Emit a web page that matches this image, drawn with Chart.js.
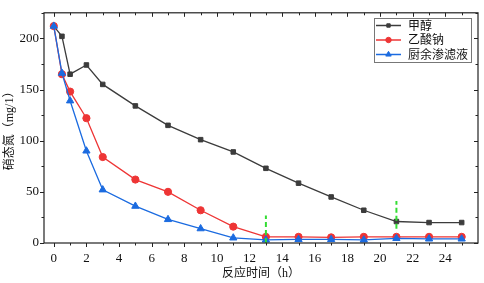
<!DOCTYPE html>
<html>
<head>
<meta charset="utf-8">
<script src="https://cdn.jsdelivr.net/npm/chart.js@4.4.0/dist/chart.umd.min.js"></script>
<style>
  html, body { margin: 0; padding: 0; background: #fff; }
</style>
</head>
<body>
<canvas id="chart" width="484" height="283"></canvas>
<script>
// reaction time (h)
const hours = [0, 0.5, 1, 2, 3, 5, 7, 9, 11, 13, 15, 17, 19, 21, 23, 25];
// nitrate nitrogen (mg/l) for each carbon source
const methanol = [212, 202, 165, 174, 155, 134, 115, 101, 89, 73, 58.5, 45, 32, 21, 20, 20];
const sodiumAcetate = [212, 165, 148, 122, 84, 62, 50, 32, 16, 6, 6, 5.5, 6, 6, 6, 6];
const leachate = [212, 166, 139, 90, 52, 36, 23, 14, 5, 3, 3.5, 3.5, 3, 4.5, 4, 4];
const seriesNames = ['甲醇', '乙酸钠', '厨余渗滤液'];

// green dashed markers
const markTimes = [13, 21];
const markLow = [0, 14];
const markHigh = [27, 41];

const xTicks = [0, 2, 4, 6, 8, 10, 12, 14, 16, 18, 20, 22, 24];
const yTicks = [0, 50, 100, 150, 200];

const FONT = "'Liberation Serif', 'Noto Sans CJK SC', serif";
const COLORS = ['#3c3c3c', '#ee3535', '#1b6be0'];
const SHAPES = ['rect', 'circle', 'triangle'];
const SIZES = [3.2, 3.6, 4.2];

const toPts = ys => hours.map((h, i) => ({ x: h, y: ys[i] }));

const markSets = markTimes.map((t, i) => ({
  data: [{ x: t, y: markLow[i] }, { x: t, y: markHigh[i] }],
  borderColor: '#33dd33',
  borderWidth: 2,
  borderDash: [5, 3],
  pointRadius: 0,
  isMark: true
}));

const series = [methanol, sodiumAcetate, leachate].map((ys, i) => ({
  label: seriesNames[i],
  data: toPts(ys),
  borderColor: COLORS[i],
  backgroundColor: COLORS[i],
  borderWidth: 1.3,
  pointStyle: SHAPES[i],
  pointRadius: SIZES[i],
  pointBorderWidth: 1,
  tension: 0
}));

// draws frame, minor/major ticks on all four sides, and the legend box
const framePlugin = {
  id: 'frame',
  afterDraw(chart) {
    const ctx = chart.ctx;
    const a = chart.chartArea;
    const xs = chart.scales.x, ys = chart.scales.y;
    ctx.save();
    ctx.strokeStyle = '#222';
    ctx.lineWidth = 1.2;
    ctx.strokeRect(a.left, a.top, a.right - a.left, a.bottom - a.top);

    ctx.lineWidth = 1;
    ctx.beginPath();
    for (let v = 0; v <= 25; v++) {
      const px = Math.round(xs.getPixelForValue(v)) + 0.5;
      const len = v % 2 === 0 ? 4 : 2.5;
      ctx.moveTo(px, a.bottom); ctx.lineTo(px, a.bottom + len);
      ctx.moveTo(px, a.top); ctx.lineTo(px, a.top + len);
    }
    for (let v = 0; v <= 225; v += 25) {
      const py = Math.round(ys.getPixelForValue(v)) + 0.5;
      const len = v % 50 === 0 ? 4 : 2.5;
      ctx.moveTo(a.left, py); ctx.lineTo(a.left - len, py);
      ctx.moveTo(a.right, py); ctx.lineTo(a.right - len, py);
    }
    ctx.stroke();

    // legend
    const bx = 374, by = 18, bw = 97, bh = 44;
    ctx.fillStyle = '#fff';
    ctx.fillRect(bx, by, bw, bh);
    ctx.strokeStyle = '#777';
    ctx.lineWidth = 1;
    ctx.strokeRect(bx + 0.5, by + 0.5, bw, bh);
    ctx.font = "12px " + FONT;
    ctx.textBaseline = 'middle';
    series.forEach((d, i) => {
      const yy = by + 7.5 + i * 14.5;
      ctx.strokeStyle = d.borderColor;
      ctx.lineWidth = 1.5;
      ctx.beginPath();
      ctx.moveTo(bx + 2, yy); ctx.lineTo(bx + 27, yy);
      ctx.stroke();
      ctx.fillStyle = d.borderColor;
      ctx.lineWidth = 1;
      Chart.helpers.drawPoint(ctx, { pointStyle: d.pointStyle, radius: d.pointRadius * 0.75, borderWidth: 1 }, bx + 14.5, yy);
      ctx.fillStyle = '#111';
      ctx.fillText(d.label, bx + 34, yy + 1);
    });
    ctx.restore();
  }
};

new Chart(document.getElementById('chart').getContext('2d'), {
  type: 'line',
  data: { datasets: [...markSets, ...series.slice().reverse()] },
  options: {
    responsive: false,
    animation: false,
    layout: { padding: { top: 5, right: 6, left: 0, bottom: 0 } },
    plugins: { legend: { display: false }, tooltip: { enabled: false } },
    scales: {
      x: {
        type: 'linear',
        min: -0.6,
        max: 26,
        grid: { display: false, drawTicks: false },
        border: { display: false },
        afterBuildTicks: s => { s.ticks = xTicks.map(v => ({ value: v })); },
        afterFit: s => { s.height = 40; },
        ticks: { padding: 8, color: '#111', font: { family: FONT, size: 13 }, maxRotation: 0 },
        title: { display: true, text: '反应时间（h）', color: '#111', font: { family: FONT, size: 12 }, padding: { top: 0, bottom: 2 } }
      },
      y: {
        min: 0,
        max: 225,
        grid: { display: false, drawTicks: false },
        border: { display: false },
        afterBuildTicks: s => { s.ticks = yTicks.map(v => ({ value: v })); },
        afterFit: s => { s.width = 44; },
        ticks: { padding: 5, color: '#111', font: { family: FONT, size: 13 } },
        title: { display: true, text: '硝态氮（mg/1）', color: '#111', font: { family: FONT, size: 12 }, padding: { top: 3, bottom: 0 } }
      }
    }
  },
  plugins: [framePlugin]
});
</script>
</body>
</html>
